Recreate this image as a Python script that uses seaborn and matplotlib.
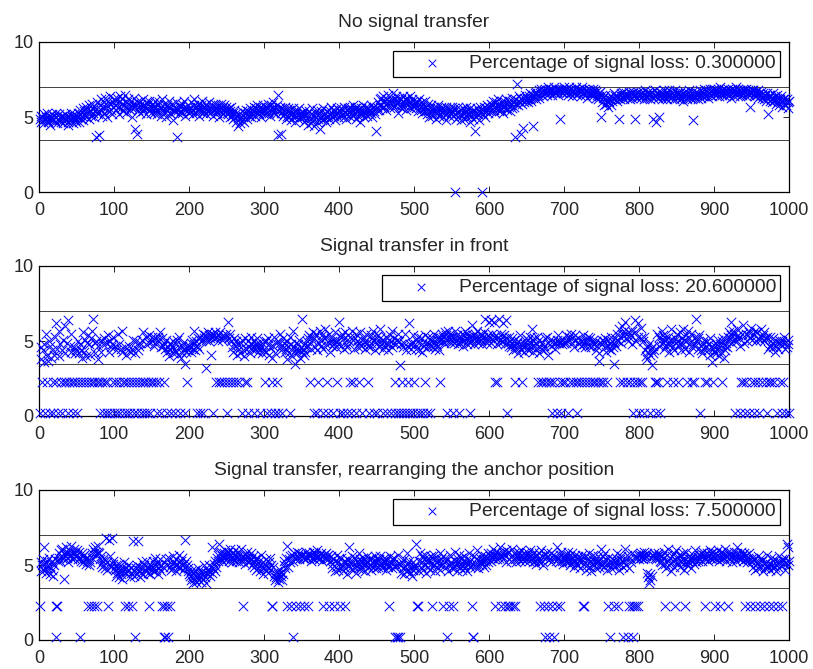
import numpy as np
import matplotlib
matplotlib.use("Agg")
import matplotlib.pyplot as plt
import seaborn as sns

# ---------------- data (values in tenths) ----------------
titles = ["No signal transfer", "Signal transfer in front",
          "Signal transfer, rearranging the anchor position"]
legend_labels = ["Percentage of signal loss: 0.300000",
                 "Percentage of signal loss: 20.600000",
                 "Percentage of signal loss: 7.500000"]
x_ticks = [0, 100, 200, 300, 400, 500, 600, 700, 800, 900, 1000]
y_ticks = [0, 5, 10]
threshold_levels = [7.0, 3.5]
mid_level = 2.3
low_level = 0.2
zero_level = 0.0

sig_no_transfer = [
49,51,47,50,48,52,46,49,50,53,48,47,51,49,45,50,52,48,49,51,47,50,53,46,49,48,52,50,47,51,49,46,50,48,52,49,51,47,45,50,48,53,49,51,46,50,52,48,47,51,
50,53,47,52,55,49,51,56,48,54,52,57,50,55,53,49,58,54,51,56,59,53,50,57,55,37,60,54,52,38,58,62,55,51,57,60,53,63,56,50,58,61,54,59,64,55,52,60,57,62,
58,61,55,63,57,52,60,64,56,59,62,54,58,65,57,53,60,56,62,58,55,61,57,50,59,63,56,42,58,39,60,55,57,61,53,59,56,62,54,58,57,52,60,56,59,55,61,57,53,58,
56,59,53,57,61,55,52,58,54,60,56,51,57,62,55,53,59,56,50,58,54,57,61,53,56,52,59,55,48,57,54,60,56,37,55,58,52,57,54,59,53,56,61,55,51,57,54,58,55,53,
57,54,60,55,52,58,62,56,53,57,55,59,51,56,54,58,61,55,53,57,56,52,59,54,57,55,60,53,56,58,54,51,57,55,59,56,53,58,55,50,57,54,59,56,52,55,58,54,57,53,
55,52,56,50,54,57,51,53,49,55,50,47,53,51,44,49,52,46,50,54,48,51,47,53,50,55,49,52,54,51,56,53,50,55,52,57,54,51,56,53,58,55,52,57,54,50,56,53,58,55,
54,57,52,56,59,53,55,51,58,54,56,60,53,57,55,52,58,65,38,55,57,53,39,56,51,55,52,57,49,54,51,56,50,53,55,48,52,56,50,54,47,53,51,55,49,52,56,50,53,51,
50,53,47,51,55,48,52,45,50,54,49,46,52,56,48,51,44,53,50,47,55,49,52,42,50,54,48,51,56,49,53,50,47,54,51,55,49,52,57,50,53,55,51,48,54,52,56,50,53,55,
54,51,56,52,55,50,57,53,49,55,52,56,54,50,57,53,55,51,58,52,56,49,54,57,51,55,53,47,56,52,54,58,50,55,53,57,51,54,56,52,55,58,53,50,56,54,57,52,41,55,
57,60,55,62,58,63,56,60,64,57,61,59,55,62,65,58,60,56,63,59,61,66,57,62,58,64,60,53,61,63,57,59,62,56,64,60,58,62,55,61,63,59,57,64,60,56,62,58,61,57,
58,61,56,60,54,59,62,57,55,60,53,58,56,61,54,57,52,59,55,50,56,53,58,51,55,57,52,54,49,56,53,58,51,55,52,57,54,50,56,53,55,48,57,52,54,56,51,55,53,57,
54,51,56,52,55,49,53,57,50,54,52,48,55,51,56,53,49,54,57,52,50,55,53,47,56,51,54,49,52,55,41,53,50,56,52,54,48,57,53,51,55,52,57,54,50,56,58,53,55,57,
56,59,54,58,61,55,57,53,60,56,58,62,54,57,59,55,61,57,53,58,60,56,62,55,59,57,61,54,58,63,56,60,57,62,37,59,72,61,58,64,60,39,62,59,43,63,60,65,61,62,
63,60,64,62,66,61,65,63,44,64,66,62,67,64,65,68,63,66,69,65,67,64,68,66,69,67,65,68,70,66,68,67,69,65,68,70,67,66,69,68,67,65,69,68,49,67,69,66,68,70,
68,66,69,67,65,68,70,66,69,64,67,68,66,69,67,70,65,68,66,69,67,64,68,70,66,67,69,65,68,66,63,67,69,66,68,65,67,69,64,66,68,63,67,65,62,66,64,67,50,65,
60,63,58,62,65,59,61,57,63,60,62,58,64,61,63,66,62,64,65,61,64,63,49,65,62,66,64,63,67,62,65,64,66,63,65,67,64,62,66,65,63,67,64,65,49,66,63,65,67,64,
65,63,66,64,67,62,65,68,64,66,63,67,65,62,66,64,67,63,49,65,68,47,64,66,63,50,65,67,64,62,66,64,68,63,65,67,62,66,64,68,65,63,67,64,66,62,65,68,64,66,
63,66,64,62,67,65,63,66,61,64,67,63,65,62,66,64,68,63,65,67,62,48,64,66,63,67,65,62,66,64,68,65,63,67,64,69,66,64,68,65,67,63,66,69,65,67,64,68,66,69,
67,65,68,66,69,64,67,70,66,68,65,67,69,66,64,68,66,69,67,65,68,63,66,69,67,64,68,66,70,65,67,69,66,68,64,67,65,69,66,68,67,64,69,66,68,65,67,57,66,68,
66,68,65,67,64,67,65,68,63,66,64,67,65,63,66,62,65,64,61,66,63,52,64,61,65,62,60,63,66,61,64,59,62,65,60,63,58,62,64,60,57,62,59,63,61,58,62,60,56,61,
]
zero_no_transfer = [555, 590]

sig_front = [
41,46,38,52,44,36,48,43,55,40,45,37,50,42,47,39,44,32,46,41,53,38,62,45,43,57,40,48,63,44,39,51,46,60,42,37,49,45,64,41,47,55,43,38,61,46,50,42,44,58,
45,50,42,48,53,44,39,47,56,43,51,46,40,49,54,45,48,41,52,46,57,65,44,49,42,50,55,47,38,53,46,51,43,58,48,45,52,40,49,56,47,54,43,50,62,46,48,53,41,49,
47,52,44,49,55,42,48,51,45,57,43,50,64,46,53,41,48,44,52,47,54,43,49,45,51,58,46,42,50,48,55,44,47,52,49,54,51,47,56,50,63,53,48,52,57,49,54,51,46,53,
50,54,47,52,49,55,45,51,53,48,56,46,50,52,47,54,49,45,51,48,43,46,40,49,44,38,47,42,50,45,36,48,43,51,41,46,53,44,39,47,42,49,45,35,48,43,50,46,44,47,
46,49,43,51,45,48,57,44,50,46,47,52,45,49,53,50,51,55,48,52,54,32,51,53,56,50,54,52,41,55,53,51,54,56,52,55,53,50,54,52,56,53,55,51,54,52,64,53,55,51,
54,63,52,55,64,50,46,49,43,52,47,44,50,41,48,53,45,42,49,46,51,44,40,47,52,45,48,43,50,46,42,49,53,45,47,41,50,44,48,52,46,43,49,45,51,47,42,48,44,50,
47,43,50,45,52,41,48,46,44,51,39,47,53,45,42,49,46,50,43,48,55,44,47,41,52,46,49,43,45,50,38,47,42,53,44,48,40,46,57,43,35,49,45,42,48,44,51,39,46,43,
65,45,41,48,43,46,50,52,47,54,49,53,45,51,56,48,52,46,55,50,44,53,49,57,51,47,54,50,45,52,58,48,53,46,51,55,49,43,52,50,47,54,49,56,51,46,53,48,50,63,
50,53,47,55,49,45,52,56,48,51,46,54,50,44,53,49,57,47,51,45,52,48,55,50,46,53,49,56,47,51,54,48,52,45,50,55,49,47,53,51,46,54,49,52,57,48,50,44,53,51,
49,54,46,52,58,48,51,45,55,50,47,53,49,56,44,51,48,54,50,46,57,49,52,45,53,48,51,47,55,50,34,52,48,59,46,51,49,55,44,50,47,53,62,48,51,45,49,54,47,52,
48,45,51,47,53,44,49,46,52,48,43,50,47,54,45,49,51,46,53,48,44,50,47,52,46,49,55,45,48,51,47,53,44,50,48,52,55,50,53,49,56,51,54,48,57,52,50,55,49,53,
51,55,49,53,57,50,54,48,52,56,49,53,51,55,47,54,50,57,52,48,55,51,53,49,56,50,61,52,54,48,55,51,53,57,49,52,50,55,51,54,48,53,56,50,65,52,49,54,51,63,
52,64,49,55,51,53,63,50,54,48,56,52,65,51,49,55,53,62,50,54,48,52,64,51,49,53,47,50,46,52,48,44,51,47,53,45,49,42,50,47,54,44,48,51,46,43,49,47,52,45,
48,51,44,49,53,46,58,50,43,52,47,49,45,53,48,42,51,46,54,49,44,50,47,52,45,48,53,41,49,46,51,47,54,44,50,48,52,45,49,43,51,54,49,52,50,55,48,53,51,49,
52,49,54,50,47,53,51,48,55,52,49,53,46,51,54,50,48,52,55,49,51,47,53,50,54,48,52,46,51,55,49,53,47,50,52,46,49,45,51,48,53,44,50,47,52,42,37,49,45,51,
48,44,50,46,52,43,49,47,51,45,48,53,44,50,46,35,49,52,47,51,55,50,58,53,56,49,60,54,51,57,63,52,55,59,50,56,53,61,54,57,48,55,52,64,56,50,58,53,62,54,
56,52,59,54,50,57,53,44,40,46,38,43,48,41,36,45,34,42,47,44,49,52,46,55,50,47,53,44,51,57,48,54,45,50,52,47,56,49,53,43,51,58,48,46,54,50,44,52,49,55,
50,53,47,56,49,44,52,58,48,51,45,54,50,47,57,43,52,49,55,46,51,48,60,53,47,65,50,52,45,54,49,44,47,42,49,45,51,38,47,43,50,44,48,41,52,46,36,49,45,43,
47,42,49,44,51,46,40,48,43,50,45,52,39,47,44,49,46,53,50,56,52,63,54,49,57,51,55,48,53,58,50,54,52,47,56,51,55,61,53,49,57,52,55,50,54,48,56,52,59,53,
51,55,49,57,53,50,56,52,48,55,51,58,53,49,54,50,56,52,47,53,48,45,51,47,53,44,49,46,52,48,43,50,47,54,45,49,51,46,48,44,50,47,53,45,49,52,46,48,51,47,
]
mid_front = [
1,4,8,11,14,18,22,25,29,33,36,40,44,47,51,55,58,62,66,70,73,77,80,84,88,91,95,99,102,106,
112,115,119,123,127,130,134,138,141,145,149,152,156,160,163,166,197,
232,236,240,243,247,251,255,258,262,266,270,274,277,301,310,317,361,372,384,397,
410,414,418,426,439,475,484,492,500,508,515,521,535,552,575,608,611,624,635,644,
665,669,672,676,680,683,687,690,694,698,701,705,708,712,716,719,723,727,730,734,738,741,745,749,752,757,
775,779,784,788,793,797,801,804,821,823,825,837,845,852,864,871,873,888,890,898,911,
928,936,939,942,946,950,955,959,964,969,973,976,980,984,988,992,996,1000,
]
low_front = [
1,8,14,19,25,31,38,45,50,81,86,90,95,100,104,108,113,117,121,126,131,136,140,144,148,
157,163,170,176,181,188,195,210,214,219,232,250,270,278,286,295,304,309,314,319,324,335,
366,370,378,385,392,401,405,410,416,422,431,440,446,450,
459,464,469,474,478,482,486,490,495,499,504,508,512,517,521,544,552,560,575,624,
684,690,696,705,717,792,800,806,815,822,828,881,928,935,941,946,953,960,971,984,990,996,1000,
]

sig_rearranged = [
49,52,46,50,54,47,62,51,45,53,48,50,55,44,49,52,47,51,43,50,54,48,52,46,53,55,58,53,60,56,61,54,41,59,57,62,55,58,52,60,56,63,57,54,59,61,55,58,56,60,
57,54,59,55,61,53,58,56,52,57,54,55,51,53,56,50,54,52,57,55,58,61,56,59,62,57,60,59,63,58,54,51,56,49,53,50,55,48,68,52,47,54,67,50,56,49,68,53,51,48,
47,43,50,45,48,42,51,46,44,49,41,47,52,45,43,48,46,50,44,47,42,49,45,51,66,46,43,65,48,44,50,66,47,42,49,45,52,48,44,50,47,53,46,49,45,51,48,44,50,47,
49,53,46,50,55,47,52,44,51,48,54,50,46,53,49,56,51,47,54,50,45,52,55,49,53,47,51,56,48,52,50,54,46,51,49,57,52,48,53,50,55,47,51,67,49,53,50,46,48,44,
43,40,46,42,38,45,41,47,39,44,42,48,40,45,43,39,46,41,44,50,42,38,45,47,44,50,46,43,49,45,62,48,51,46,53,49,55,57,53,64,58,54,59,56,52,58,55,60,57,54,
56,59,53,57,61,55,52,58,54,57,60,53,56,55,59,52,57,54,61,56,53,58,55,51,57,54,59,56,52,55,53,58,54,50,56,52,49,54,47,51,55,48,53,46,50,57,49,44,52,48,
51,47,54,49,45,52,48,55,50,46,53,49,43,40,45,42,46,39,44,41,47,43,45,40,44,50,53,48,55,51,63,49,54,52,56,50,57,53,55,58,54,57,55,59,56,54,58,55,57,56,
57,55,58,54,56,59,55,57,54,58,56,53,57,55,59,56,54,58,57,55,60,56,54,57,55,58,53,56,59,57,55,58,54,56,57,60,55,53,56,51,48,54,50,46,53,49,57,52,47,55,
51,48,55,50,46,53,49,57,52,44,54,50,62,48,53,51,56,47,52,49,55,50,45,53,48,58,51,54,49,52,47,55,50,53,46,51,56,49,52,54,50,47,55,52,49,53,51,56,48,54,
52,49,54,50,56,51,48,53,50,55,52,47,54,51,49,53,50,56,52,48,54,51,55,49,53,50,52,57,48,51,47,50,45,52,48,54,44,49,46,51,58,47,53,45,50,48,43,52,47,49,
50,64,48,55,51,46,53,58,49,52,56,47,54,50,57,45,52,55,49,53,47,51,56,48,54,50,57,46,52,55,49,53,51,58,47,54,50,56,48,52,55,49,53,51,46,54,50,57,52,48,
51,55,48,53,59,50,46,54,52,57,49,51,55,47,53,50,56,48,52,54,46,51,58,49,53,50,55,47,52,56,49,54,51,60,48,53,50,55,52,57,51,54,49,53,56,50,55,52,58,54,
56,53,58,55,61,54,57,52,59,56,54,58,55,62,57,53,56,59,54,57,55,60,52,58,56,54,59,57,53,56,61,55,58,54,57,52,56,59,55,58,53,57,60,54,56,58,55,53,57,56,
55,58,53,56,60,54,57,52,55,59,53,56,51,57,54,58,52,55,60,53,56,50,54,57,52,55,59,53,56,51,54,58,52,55,57,50,54,56,53,58,62,55,52,57,54,59,53,56,51,55,
54,57,52,55,59,53,56,50,54,58,52,55,49,53,57,51,54,56,50,53,48,55,52,57,49,54,51,56,47,53,50,55,58,49,52,46,54,51,57,50,53,48,55,52,56,49,53,51,61,50,
52,56,49,54,58,51,47,55,53,50,57,52,48,54,51,56,49,53,55,50,58,52,47,54,51,56,53,49,55,52,61,50,54,57,51,53,48,55,52,56,58,54,57,55,56,59,55,57,56,54,
57,55,58,56,54,57,59,55,56,58,45,42,38,44,40,55,43,57,56,58,55,57,54,56,58,55,57,53,52,56,50,55,59,51,54,48,57,53,61,50,55,52,46,56,53,58,49,54,60,52,
55,51,57,53,49,56,52,58,54,47,55,51,59,53,50,56,52,54,48,55,53,57,51,54,60,52,56,53,55,57,54,58,56,53,59,55,57,61,54,58,56,53,57,60,55,58,54,56,59,55,
57,54,58,56,60,55,53,57,59,56,54,58,55,61,57,53,56,59,55,57,54,58,56,52,57,55,59,56,53,58,62,55,57,54,56,59,55,57,53,58,56,54,57,52,55,58,54,56,53,55,
52,49,54,50,47,53,51,56,48,52,50,55,49,53,46,51,54,48,52,50,57,49,53,47,51,55,50,48,52,54,49,51,46,53,50,56,48,52,50,54,49,53,51,47,55,52,64,62,50,53,
]
mid_rearranged = [
1,22,24,65,69,73,77,92,115,119,124,128,146,164,167,171,175,272,310,311,
330,336,342,348,353,359,379,386,393,401,408,466,504,505,524,539,546,552,577,
608,616,621,625,628,632,635,668,673,678,684,690,695,725,726,
759,766,772,779,786,790,793,796,799,835,848,861,888,901,908,919,
941,948,954,961,967,973,979,985,991,
]
low_rearranged = [
23,55,128,166,168,172,339,475,477,479,481,544,578,579,675,680,686,761,779,785,792,
]


def build(sig, levels):
    y = np.asarray(sig, dtype=float) / 10.0
    for idx_list, lev in levels:
        for k in idx_list:
            if 1 <= k <= len(y):
                y[k - 1] = lev
    x = np.arange(1, len(y) + 1)
    return x, y


panels = [
    build(sig_no_transfer, [(zero_no_transfer, zero_level)]),
    build(sig_front, [(mid_front, mid_level), (low_front, low_level)]),
    build(sig_rearranged, [(mid_rearranged, mid_level), (low_rearranged, low_level)]),
]

# ---------------- style ----------------
sns.set_style("ticks")
plt.rcParams["font.family"] = ["Liberation Sans", "DejaVu Sans"]

W, H = 813, 669
fig = plt.figure(figsize=(W / 100, H / 100), dpi=100)
fig.patch.set_facecolor("white")

left_px, right_px = 39, 789
tops_px = [42, 266, 490]
ax_h_px = 150

for i, ((x, y), title, lab) in enumerate(zip(panels, titles, legend_labels)):
    top = tops_px[i]
    ax = fig.add_axes([left_px / W, (H - top - ax_h_px) / H,
                       (right_px - left_px) / W, ax_h_px / H])
    for lev in threshold_levels:
        ax.axhline(lev, color="0.25", lw=0.7, zorder=1)
    sns.scatterplot(x=x, y=y, ax=ax, marker="x", color="#0000ff", s=46,
                    linewidth=0.7, clip_on=False, zorder=3, legend=False)
    coll = ax.collections[-1]
    ax.set_xlim(0, 1000)
    ax.set_ylim(0, 10)
    ax.set_xticks(x_ticks)
    ax.set_yticks(y_ticks)
    ax.tick_params(direction="in", top=True, right=True, length=4.5, width=0.6,
                   labelsize=13, color="k")
    ax.tick_params(axis="x", pad=7)
    ax.tick_params(axis="y", pad=4)
    for sp in ax.spines.values():
        sp.set_visible(True)
        sp.set_color("k")
        sp.set_linewidth(0.9)
    ax.set_xlabel("")
    ax.set_ylabel("")
    ax.set_title(title, fontsize=13.9, pad=10.5)
    leg = ax.legend([coll], [lab], loc="upper right", fontsize=13.9,
                    frameon=True, fancybox=False, framealpha=1,
                    edgecolor="k", borderpad=0.22, handlelength=3.6,
                    handletextpad=0.15, borderaxespad=0.45, scatterpoints=1,
                    markerscale=0.8)
    leg.get_frame().set_linewidth(0.9)
    leg.set_zorder(5)

fig.savefig("out.png", dpi=100, facecolor="white")
